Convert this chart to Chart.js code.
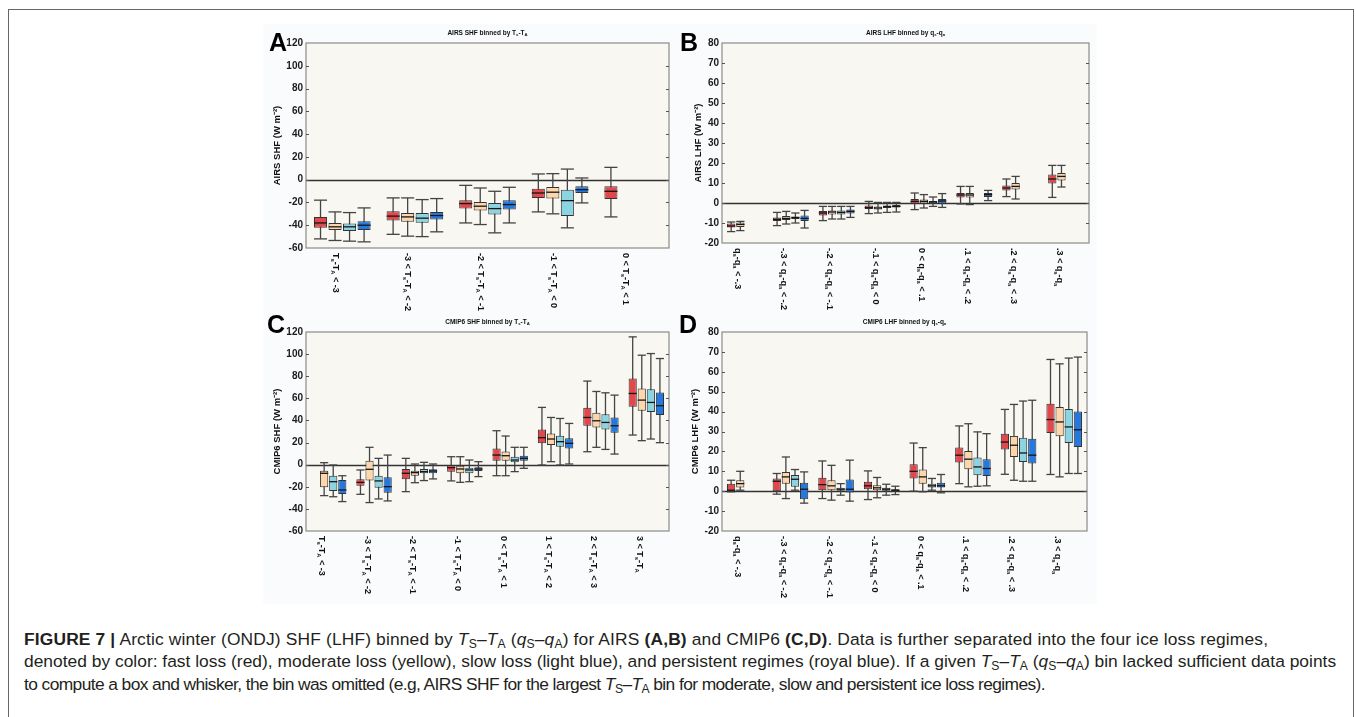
<!DOCTYPE html>
<html><head><meta charset="utf-8">
<script src="https://cdn.jsdelivr.net/npm/chart.js@4.4.0/dist/chart.umd.min.js"></script>
<style>
html,body{margin:0;padding:0;background:#fff;width:1356px;height:717px;overflow:hidden;font-family:"Liberation Sans",Arial,sans-serif;}
#frame{position:absolute;left:8px;top:9px;width:1344px;height:740px;border-left:1px solid #666;border-top:1px solid #666;border-right:1px solid #666;}
#fig{position:absolute;left:263px;top:24px;width:834px;height:580px;background:#f9fbfd;}
canvas{position:absolute;}
.letter{position:absolute;font:bold 25px "Liberation Sans",Arial,sans-serif;color:#000;line-height:25px;}
.cap{position:absolute;left:24px;color:#231f20;font-size:15px;line-height:22px;white-space:nowrap;}
.cap sub{font-size:0.7em;vertical-align:-0.25em;line-height:0;}
</style></head>
<body>
<div id="frame"></div>
<div id="fig"></div>
<canvas id="cA" width="420" height="300" style="left:262px;top:20px;width:420px;height:300px"></canvas>
<canvas id="cB" width="420" height="300" style="left:682px;top:20px;width:420px;height:300px"></canvas>
<canvas id="cC" width="420" height="300" style="left:262px;top:305px;width:420px;height:300px"></canvas>
<canvas id="cD" width="420" height="300" style="left:682px;top:305px;width:420px;height:300px"></canvas>
<div class="letter" style="left:269px;top:30px">A</div>
<div class="letter" style="left:680px;top:30px">B</div>
<div class="letter" style="left:267px;top:312px">C</div>
<div class="letter" style="left:679px;top:312px">D</div>
<div class="cap" id="l1" data-w="1244" style="top:628px"><b>FIGURE 7 |</b> Arctic winter (ONDJ) SHF (LHF) binned by <i>T</i><sub>S</sub>–<i>T</i><sub>A</sub> (<i>q</i><sub>S</sub>–<i>q</i><sub>A</sub>) for AIRS <b>(A,B)</b> and CMIP6 <b>(C,D)</b>. Data is further separated into the four ice loss regimes,</div>
<div class="cap" id="l2" data-w="1312" style="top:650px">denoted by color: fast loss (red), moderate loss (yellow), slow loss (light blue), and persistent regimes (royal blue). If a given <i>T</i><sub>S</sub>–<i>T</i><sub>A</sub> (<i>q</i><sub>S</sub>–<i>q</i><sub>A</sub>) bin lacked sufficient data points</div>
<div class="cap" id="l3" data-w="1021" style="top:673px">to compute a box and whisker, the bin was omitted (e.g, AIRS SHF for the largest <i>T</i><sub>S</sub>–<i>T</i><sub>A</sub> bin for moderate, slow and persistent ice loss regimes).</div>
<script>
// ---------- DATA ----------
const regimes = ['fast loss', 'moderate loss', 'slow loss', 'persistent'];
const fills = ['#e2474c', '#fdd6ab', '#8bd5e2', '#2479e0'];

const catsA = ['T_s-T_A < -3', '-3 < T_s-T_A < -2', '-2 < T_s-T_A < -1', '-1 < T_s-T_A < 0', '0 < T_s-T_A < 1'];
const catsC = ['T_s-T_A < -3', '-3 < T_s-T_A < -2', '-2 < T_s-T_A < -1', '-1 < T_s-T_A < 0', '0 < T_s-T_A < 1', '1 < T_s-T_A < 2', '2 < T_s-T_A < 3', '3 < T_s-T_A'];
const catsQ = ['q_s-q_a < -.3', '-.3 < q_s-q_a < -.2', '-.2 < q_s-q_a < -.1', '-.1 < q_s-q_a < 0', '0 < q_s-q_a < .1', '.1 < q_s-q_a < .2', '.2 < q_s-q_a < .3', '.3 < q_s-q_a'];

// each entry: [min, q1, median, q3, max]
const A_fast = [[-52,-42.3,-38,-32.7,-18],[-48,-35.9,-32,-27.7,-16],[-38,-25.4,-21,-18,-5],[-28.3,-16,-11.7,-7.9,5],[-32.7,-16.9,-10.2,-5.8,10.8]];
const A_mod  = [[-53.4,-44.3,-41.4,-38,-28.3],[-49.6,-37,-32.7,-29.2,-16],[-39.4,-27,-23.3,-19.5,-7.3],[-30,-16.6,-11,-6.4,5.3],null];
const A_slow = [[-54,-45,-41.4,-38.5,-28.9],[-50,-37.9,-33.8,-29.2,-17.5],[-46.7,-30.6,-25.4,-20.4,-10.2],[-42.3,-32,-18.4,-8.8,9.3],null];
const A_pers = [[-54.6,-44.3,-40,-36.5,-24.8],[-45.8,-35,-31.5,-28.3,-16.6],[-38,-26.3,-21.9,-18,-6.7],[-20.4,-11.7,-8.8,-5.8,1.5],null];

const B_fast = [[-14.3,-12.3,-11.5,-10.3,-9.5],[-11.3,-9,-8.2,-7.2,-4.7],[-8.8,-6.3,-5,-4,-1.7],[-5.3,-3,-2.3,-1.3,0.8],[-3.3,-0.3,0.8,2,5],[-0.5,2.8,4,5,8.3],[3.2,6.3,7.5,8.8,12],[2.8,9.7,12,14.3,18.8]];
const B_mod  = [[-13.8,-12,-10.7,-9.8,-9.2],[-10.5,-8.5,-7.7,-6.5,-4.2],[-8,-5.7,-4.5,-3.7,-1.7],[-5,-3.3,-2.5,-1.7,0.3],[-2.5,-0.2,0.8,1.7,4.2],[-0.8,2.8,4,5,8.3],[2,6.7,8.3,10,13.3],[8,11.3,13.3,15,18.8]];
const B_slow = [null,[-10,-8,-7.3,-6.7,-5],[-8,-5.7,-4.7,-3.8,-1.7],[-4.7,-2.5,-1.8,-1.2,0.3],[-1.7,-0.3,0.5,1,3],null,null,null];
const B_pers = [null,[-12.5,-9,-7.7,-6.3,-3.7],[-7.2,-5.2,-4.2,-3.3,-1.7],[-4.5,-2.3,-1.7,-1,0.3],[-2.2,-0.2,1,2,4.7],[1.2,3,4.2,5,6.3],null,null];

const C_fast = [null,[-26.8,-19,-16,-13.2,-4.8],[-24.4,-13.2,-7.8,-3.9,5.7],[-14.7,-6.3,-2.7,-0.3,7.2],[-10,3.6,8.7,14.7,30.7],[-0.3,19.3,24.4,31.9,51.8],[11.7,35.2,42.7,51.5,75.6],[26.8,52.4,64.4,78,115.6]];
const C_mod  = [[-28,-20.5,-7.8,-5.4,1.8],[-34.3,-14.4,-4.2,3.6,15.7],[-16.3,-10,-7.2,-5.4,0.6],[-16,-7.8,-3.9,-0.9,7.2],[-10,3.6,8.1,12,25.9],[2.7,17.8,23.2,28.3,42.7],[15.7,33.7,39.7,47,66.2],[21.7,48.8,58.4,68.9,99]];
const C_slow = [[-29,-23.8,-15.4,-10,-0.3],[-31,-20.8,-14.7,-10,5.7],[-14.4,-7.8,-6.3,-3.9,2.1],[-15.4,-7.8,-4.8,-2.7,4.2],[-6.3,2.1,4.2,7.2,15.7],[-0.3,16.3,20.8,26.2,41.8],[13.8,31.9,38.2,45.5,65],[23.2,47.6,56.3,68.3,100.5]];
const C_pers = [[-33.4,-26.5,-22.9,-13.8,-10],[-32.8,-25.3,-19.9,-11.4,8.7],[-12.9,-7.8,-5.7,-4.2,0.6],[-10.8,-5.7,-3.9,-2.4,2.7],[-3.3,3.6,5.7,8.1,15.7],[0.6,14.7,19.3,23.8,37.3],[9.6,28.9,35.2,42.7,62.9],[19.9,44.9,53.3,65.3,96]];

const D_fast = [[-0.3,-0.3,0.5,3.8,5.5],[-1.5,0,5,6.4,8.9],[-3.7,0.5,3.3,6.7,15.2],[-4.2,1,2.7,4.7,10.2],[0,6.4,10,13.5,24.2],[3.8,14.4,18.1,21.9,32.8],[8.5,20.9,24.7,28.9,41.1],[8.4,29.3,36,44,66.2]];
const D_mod  = [[0.5,1.8,3.8,5.5,10],[-3.7,3.8,7.2,9.7,17.2],[-4.5,0.5,2.7,5.5,13],[-3.3,0.5,1.7,3,6.9],[-0.3,3.8,7.2,10.9,21.9],[2.2,11,16.1,20.2,33.9],[5.5,17.2,23.1,27.8,43.6],[7.2,27.6,34.8,42.3,64]];
const D_slow = [null,[0.5,2.2,6,8.1,10.9],[-2,0.2,1,1.7,3.8],[-2,0.2,1,1.7,3.5],[0.5,1.8,2.7,3.8,6.4],[2.5,8,12.2,16.9,29.8],[5,14.7,19.2,26.9,45.3],[8.9,24.2,32.3,41.3,66.9]];
const D_pers = [null,[-6,-4.1,1,4.2,9.7],[-5,-0.7,1,5.9,15.6],[-1.7,-0.3,0.5,1,2.5],[-0.8,1.8,2.7,4.2,8.4],[2.7,7.7,11.4,16.1,28.9],[5,13.9,18.1,26.4,45.7],[8.9,22.2,30.9,40.1,67.4]];

// ---------- DRAWING HELPERS ----------
const FAM = '"Liberation Sans", Arial, sans-serif';
function parseRich(str){
  const runs=[]; let i=0;
  while(i<str.length){
    if(str[i]==='_'){ runs.push({t:str[i+1],sub:true}); i+=2; }
    else { let t=''; while(i<str.length && str[i]!=='_'){ t+=str[i]; i++; } runs.push({t,sub:false}); }
  }
  return runs;
}
function drawRich(ctx,str,x,y,size,align){
  const runs=parseRich(str);
  const fMain='bold '+size+'px '+FAM, fSub='bold '+(size*0.65).toFixed(2)+'px '+FAM;
  let total=0;
  runs.forEach(r=>{ctx.font=r.sub?fSub:fMain; r.w=ctx.measureText(r.t).width; total+=r.w;});
  let cx = align==='center'? x-total/2 : x;
  ctx.textAlign='left'; ctx.textBaseline='middle';
  runs.forEach(r=>{ctx.font=r.sub?fSub:fMain; ctx.fillText(r.t,cx,y+(r.sub?size*0.35:0)); cx+=r.w;});
}
function seg(ctx,x1,y1,x2,y2){ctx.beginPath();ctx.moveTo(x1,y1);ctx.lineTo(x2,y2);ctx.stroke();}

const boxPlugin = {
  id:'boxwhisker',
  beforeDatasetsDraw(chart){
    const {ctx, chartArea:a, scales:{x,y}} = chart;
    ctx.save();
    ctx.fillStyle='#f8f7f2'; ctx.fillRect(a.left,a.top,a.width,a.height);
    const y0=Math.round(y.getPixelForValue(0))+0.5;
    ctx.strokeStyle='#333'; ctx.lineWidth=1.4; seg(ctx,a.left,y0,a.right,y0);
    chart.data.datasets.forEach((ds,di)=>{
      const meta=chart.getDatasetMeta(di);
      ds.stats.forEach((v,i)=>{
        if(!v) return;
        const el=meta.data[i], cx=el.x, w=el.width;
        const ya=y.getPixelForValue(v[0]), yb=y.getPixelForValue(v[4]);
        ctx.strokeStyle='#444'; ctx.lineWidth=1.3;
        seg(ctx,cx,ya,cx,yb);
        seg(ctx,cx-w/2,ya,cx+w/2,ya);
        seg(ctx,cx-w/2,yb,cx+w/2,yb);
      });
    });
    ctx.restore();
  },
  afterDatasetsDraw(chart,args,opts){
    const {ctx, chartArea:a, scales:{x,y}} = chart;
    ctx.save();
    chart.data.datasets.forEach((ds,di)=>{
      const meta=chart.getDatasetMeta(di);
      ds.stats.forEach((v,i)=>{
        if(!v) return;
        const el=meta.data[i], cx=el.x, w=el.width;
        const ym=y.getPixelForValue(v[2]);
        ctx.strokeStyle='#151515'; ctx.lineWidth=1.3;
        seg(ctx,cx-w/2,ym,cx+w/2,ym);
      });
    });
    // frame
    ctx.strokeStyle='#8a8a8a'; ctx.lineWidth=1.2;
    ctx.strokeRect(a.left,a.top,a.width,a.height);
    // inward tick marks (left and right)
    ctx.strokeStyle='#555'; ctx.lineWidth=1;
    y.ticks.forEach(t=>{
      if(t.value===y.min||t.value===y.max) return;
      const py=Math.round(y.getPixelForValue(t.value))+0.5;
      seg(ctx,a.left,py,a.left+3,py);
      seg(ctx,a.right-3,py,a.right,py);
    });
    // title
    ctx.fillStyle='#111';
    drawRich(ctx,opts.title,(a.left+a.right)/2,a.top-10,6.5,'center');
    // rotated category labels
    chart.data.labels.forEach((lab,i)=>{
      const px=x.getPixelForValue(i)-7;
      ctx.save();
      ctx.translate(px,a.bottom+5);
      ctx.rotate(Math.PI/2);
      ctx.fillStyle='#111';
      drawRich(ctx,lab,0,0,9,'left');
      ctx.restore();
    });
    ctx.restore();
  }
};

function makePanel(id,p){
  const datasets=p.series.map((s,i)=>({
    label:regimes[i],
    data:s.map(v=>v?[v[1],v[3]]:null),
    stats:s,
    backgroundColor:fills[i],
    borderColor:'#333',
    borderWidth:1,
    borderSkipped:false
  }));
  return new Chart(document.getElementById(id),{
    type:'bar',
    data:{labels:p.cats,datasets},
    options:{
      responsive:false,animation:false,devicePixelRatio:1,
      layout:{padding:{left:0,top:p.T,right:p.R,bottom:0}},
      plugins:{legend:{display:false},tooltip:{enabled:false},boxwhisker:{title:p.title}},
      scales:{
        x:{ticks:{display:false},grid:{display:false},border:{display:false},
           afterFit:s=>{s.height=p.Hx;}},
        y:{min:p.min,max:p.max,
           ticks:{stepSize:p.step,color:'#1a1a1a',padding:3,font:{family:FAM,size:10,weight:'bold'}},
           grid:{display:false,drawTicks:false},border:{display:false},
           title:{display:true,text:p.ytitle,color:'#111',font:{family:FAM,size:9.5,weight:'bold'},padding:{top:p.tpad,bottom:0}},
           afterFit:s=>{s.width=p.Wy;}}
      }
    },
    plugins:[boxPlugin]
  });
}

makePanel('cA',{cats:catsA,series:[A_fast,A_mod,A_slow,A_pers],min:-60,max:120,step:20,
  ytitle:'AIRS SHF (W m⁻²)',title:'AIRS SHF binned by T_s-T_A',T:23,R:13,Hx:72,Wy:44,tpad:9.3});
makePanel('cB',{cats:catsQ,series:[B_fast,B_mod,B_slow,B_pers],min:-20,max:80,step:10,
  ytitle:'AIRS LHF (W m⁻²)',title:'AIRS LHF binned by q_s-q_a',T:23,R:13,Hx:77,Wy:40,tpad:10.3});
makePanel('cC',{cats:catsC,series:[C_fast,C_mod,C_slow,C_pers],min:-60,max:120,step:20,
  ytitle:'CMIP6 SHF (W m⁻²)',title:'CMIP6 SHF binned by T_s-T_A',T:27,R:13,Hx:74,Wy:44,tpad:9.3});
makePanel('cD',{cats:catsQ,series:[D_fast,D_mod,D_slow,D_pers],min:-20,max:80,step:10,
  ytitle:'CMIP6 LHF (W m⁻²)',title:'CMIP6 LHF binned by q_s-q_a',T:27,R:15,Hx:74,Wy:40,tpad:7.3});

// caption: size so line 2 fits naturally, then small letter-spacing tweaks per line
(function(){
  const caps=document.querySelectorAll('.cap');
  const l2=document.getElementById('l2');
  const fs=15*1312/l2.getBoundingClientRect().width;
  caps.forEach(d=>d.style.fontSize=fs.toFixed(2)+'px');
  caps.forEach(d=>{
    const target=+d.dataset.w;
    const w=d.getBoundingClientRect().width;
    const n=d.textContent.length;
    d.style.letterSpacing=((target-w)/n).toFixed(3)+'px';
  });
})();
</script>
</body></html>
